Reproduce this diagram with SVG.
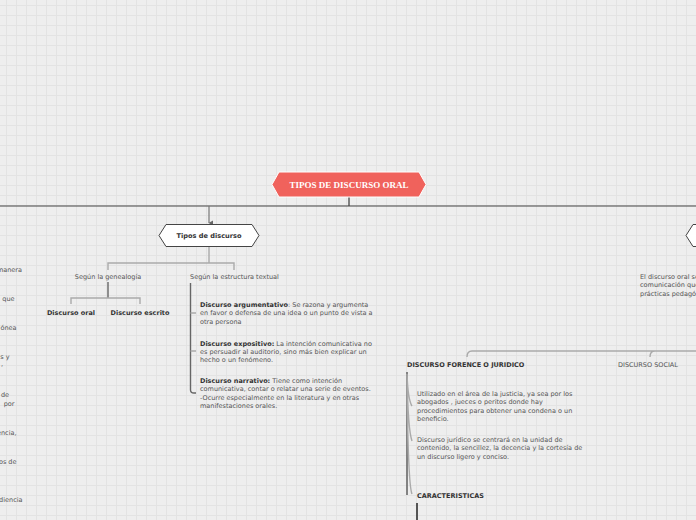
<svg xmlns="http://www.w3.org/2000/svg" width="696" height="520" viewBox="0 0 696 520">
<defs>
<pattern id="grid" x="6" y="5" width="10" height="10" patternUnits="userSpaceOnUse">
<rect width="10" height="10" fill="#eeeeee"/>
<path d="M0.5 0V10M0 0.5H10" stroke="#e3e3e3" stroke-width="1" fill="none"/>
</pattern>
<marker id="arr" viewBox="0 0 6 6" refX="3" refY="5" markerWidth="6" markerHeight="6" orient="auto-start-reverse" markerUnits="userSpaceOnUse">
<path d="M0.5 1L3 5.5L5.5 1Z" fill="#666"/>
</marker>
<style>
.t{font-family:"DejaVu Sans",Verdana,sans-serif;font-size:6.5px;fill:#555}
.b{font-weight:bold;fill:#333}
.h{font-family:"DejaVu Sans",Verdana,sans-serif;font-size:6.6px;font-weight:bold;fill:#333}
.c{fill:none;stroke:#aaa;stroke-width:1.4}
.d{fill:none;stroke:#666;stroke-width:1.4}
</style>
</defs>
<rect width="696" height="520" fill="url(#grid)"/>

<g id="connectors">
<path d="M349 197V206" stroke="#444" stroke-width="1.3" fill="none"/>
<path d="M0 206H696" stroke="#444" stroke-width="1.2" fill="none"/>
<path d="M209 206V223" stroke="#777" stroke-width="1.2" fill="none" marker-end="url(#arr)"/>
<path class="c" d="M209 247V263M108 263H234M108 262.3V270M234 262.3V270"/>
<path class="d" d="M108 282V298"/>
<path class="c" d="M71 298H140M71 297.3V304M140 297.3V304"/>
<path class="d" d="M190.5 283V390Q190.5 393 194 393H196"/>
<path class="c" d="M190.5 313H196M190.5 351H196"/>
<path class="c" d="M696 351H472Q467 351 467 357M696 351H655Q650 351 650 357"/>
<path d="M407 372V495" stroke="#777" stroke-width="1.8" fill="none"/>
<path class="c" d="M407 374Q408 400 412 406M407 376Q408 430 412 441M407 380Q408 485 412 494"/>
<path d="M417 503V520" stroke="#555" stroke-width="2" fill="none"/>
</g>

<g id="title">
<path d="M279 172H419L426 184.5L419 197H279L272 184.5Z" fill="#f0625c" stroke="#fff" stroke-width="1"/>
<text x="349" y="187.8" text-anchor="middle" font-family="'Liberation Serif',serif" font-size="9" font-weight="bold" fill="#fff">TIPOS DE DISCURSO ORAL</text>
</g>

<g id="tipos">
<path d="M166 224.5H252L259 235.5L252 246.5H166L159 235.5Z" fill="#fff" stroke="#444" stroke-width="1"/>
<text x="209" y="238" text-anchor="middle" class="h" font-size="6.5">Tipos de discurso</text>
</g>

<g id="right-node">
<path d="M696 224.5H693L686 235.5L693 246.5H696" fill="#fff" stroke="#444" stroke-width="1"/>
</g>

<g id="genealogia">
<text x="108" y="279" text-anchor="middle" class="t">Según la genealogía</text>
</g>
<g id="oral"><text x="71" y="315" text-anchor="middle" class="t b">Discurso oral</text></g>
<g id="escrito"><text x="140" y="315" text-anchor="middle" class="t b">Discurso escrito</text></g>

<g id="estructura">
<text x="190" y="279" class="t">Según la estructura textual</text>
</g>
<g id="argumentativo">
<text class="t" x="200" y="307"><tspan class="b">Discurso argumentativo</tspan>: Se razona y argumenta</text>
<text class="t" x="200" y="315.3">en favor o defensa de una idea o un punto de vista a</text>
<text class="t" x="200" y="323.6">otra persona</text>
</g>
<g id="expositivo">
<text class="t" x="200" y="345.5"><tspan class="b">Discurso expositivo:</tspan> La intención comunicativa no</text>
<text class="t" x="200" y="353.8">es persuadir al auditorio, sino más bien explicar un</text>
<text class="t" x="200" y="362.1">hecho o un fenómeno.</text>
</g>
<g id="narrativo">
<text class="t" x="200" y="383"><tspan class="b">Discurso narrativo:</tspan> Tiene como intención</text>
<text class="t" x="200" y="391.3">comunicativa, contar o relatar una serie de eventos.</text>
<text class="t" x="200" y="399.6">-Ocurre especialmente en la literatura y en otras</text>
<text class="t" x="200" y="407.9">manifestaciones orales.</text>
</g>

<g id="left-texts">
<text class="t" x="22" y="272" text-anchor="end">manera</text>
<text class="t" x="14.5" y="301" text-anchor="end">que</text>
<text class="t" x="16.5" y="330" text-anchor="end">ónea</text>
<text class="t" x="9.5" y="359" text-anchor="end">s y</text>
<text class="t" x="3" y="366" text-anchor="end">,</text>
<text class="t" x="9" y="397" text-anchor="end">de</text>
<text class="t" x="14.5" y="405.5" text-anchor="end">por</text>
<text class="t" x="16.5" y="435" text-anchor="end">encia,</text>
<text class="t" x="16.5" y="464" text-anchor="end">os de</text>
<text class="t" x="22.5" y="502" text-anchor="end">diencia</text>
</g>

<g id="right-text">
<text class="t" x="640" y="279">El discurso oral se</text>
<text class="t" x="640" y="287.3">comunicación que</text>
<text class="t" x="640" y="295.6">prácticas pedagóg</text>
</g>

<g id="forense">
<text class="t b" x="407" y="367">DISCURSO FORENCE O JURIDICO</text>
</g>
<g id="social">
<text class="t" x="618" y="367">DISCURSO SOCIAL</text>
</g>
<g id="utilizado">
<text class="t" x="417" y="396">Utilizado en el área de la justicia, ya sea por los</text>
<text class="t" x="417" y="404.3">abogados , jueces o peritos donde hay</text>
<text class="t" x="417" y="412.6">procedimientos para obtener una condena o un</text>
<text class="t" x="417" y="420.9">beneficio.</text>
</g>
<g id="juridico">
<text class="t" x="417" y="442">Discurso jurídico se centrará en la unidad de</text>
<text class="t" x="417" y="450.3">contenido, la sencillez, la decencia y la cortesía de</text>
<text class="t" x="417" y="458.6">un discurso ligero y conciso.</text>
</g>
<g id="caracteristicas">
<text class="t b" x="417" y="498">CARACTERISTICAS</text>
</g>
</svg>
